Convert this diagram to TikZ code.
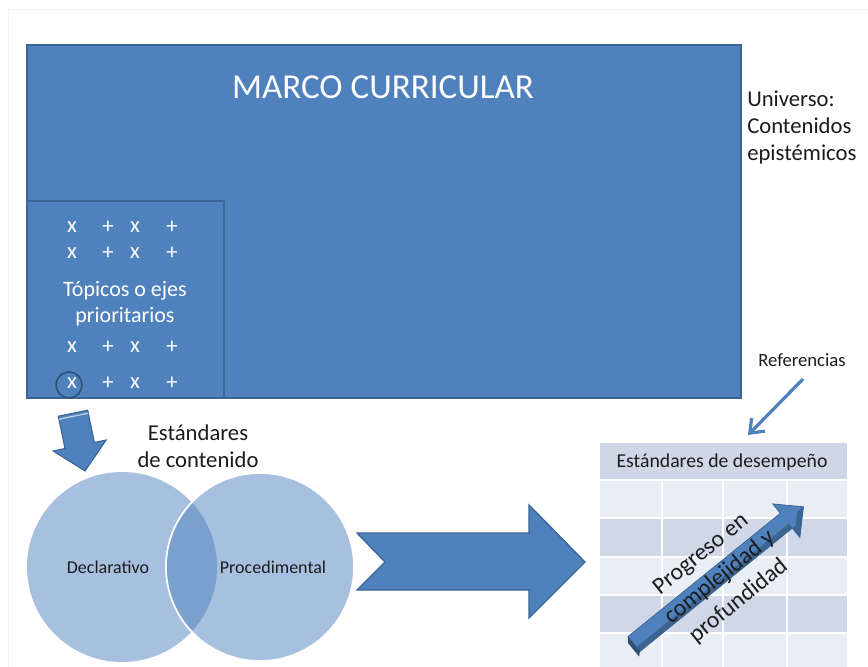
\documentclass[tikz,border=0pt]{standalone}
\usepackage{fontspec}
\setmainfont{Carlito}
\usetikzlibrary{arrows.meta}
\definecolor{mainblue}{HTML}{4F81BD}
\definecolor{edgeblue}{HTML}{3A6596}
\definecolor{circfill}{HTML}{A8C0DF}
\definecolor{lensfill}{HTML}{7BA0CD}
\definecolor{hdrfill}{HTML}{CFD7E6}
\definecolor{rowA}{HTML}{E9EDF4}
\definecolor{rowB}{HTML}{D0D8E8}
\definecolor{darkbevel}{HTML}{3C6490}
\definecolor{txt}{HTML}{1C1C1C}
\definecolor{faint}{HTML}{F3F3F3}
\newcommand{\fs}[2]{\fontsize{#1pt}{#2pt}\selectfont}
\tikzset{
  blockbox/.style={fill=mainblue, draw=edgeblue, line width=1pt},
  whitetxt/.style={text=white, inner sep=0pt, align=center},
  darktxt/.style={text=txt, inner sep=0pt, align=center},
  xmark/.style={text=white, inner sep=0pt, font=\fs{17}{20}},
  gridline/.style={draw=white, line width=1.2pt}
}
\begin{document}
\begin{tikzpicture}[x=0.75pt,y=-0.75pt]
\useasboundingbox (0,0) rectangle (868,667);
\fill[white] (0,0) rectangle (868,667);
\draw[faint, line width=0.8pt] (8.5,667) -- (8.5,9.5) -- (868,9.5);
% main box
\draw[blockbox] (27,45) rectangle (741,398);
\node[whitetxt, font=\fs{26.3}{30}] (title) at (383,87) {MARCO CURRICULAR};
\draw[blockbox] (27,201) rectangle (224,398);
% marks
\foreach \y in {227,253,347,383}{
  \node[xmark] at (72,\y) {x};
  \node[xmark] at (108,\y) {+};
  \node[xmark] at (135,\y) {x};
  \node[xmark] at (172,\y) {+};
}
\draw[edgeblue!80!black, line width=1.2pt] (69,385) circle (13);
\node[whitetxt, font=\fs{16.5}{19.5}] (topicos) at (125,304) {Tópicos o ejes\\prioritarios};
\node[darktxt, font=\fs{17}{20}, align=left, anchor=north west] (universo) at (747,91) {Universo:\\Contenidos\\epistémicos};
% down arrow
\draw[blockbox, line width=0.8pt] (87.7,410.2) -- (94.4,442.5) -- (106.2,440.0) -- (85,471) -- (53.2,451.0) -- (65.0,448.5) -- (58.3,416.2) -- cycle;
\draw[white!60!mainblue, line width=1pt] (58.9,419.2) -- (88.3,413.2);
\node[darktxt, font=\fs{17}{20}] (estcont) at (198,446) {Estándares\\de contenido};
% circles
\fill[circfill] (122,567) circle (95);
\draw[white, line width=1.2pt, fill=circfill] (260,567) circle (94);
\begin{scope}
  \clip (122,567) circle (95);
  \fill[lensfill] (260,567) circle (94);
  \draw[white, line width=1.2pt] (260,567) circle (94);
\end{scope}
\node (decl) [darktxt, font=\fs{13.5}{16}] at (108,567) {Declarativo};
\node (proc) [darktxt, font=\fs{13.5}{16}] at (273,567) {Procedimental};
% big right arrow
\draw[blockbox] (357,533) -- (529,533) -- (529,505) -- (585,562) -- (529,618) -- (529,590) -- (357,590) -- (385,562) -- cycle;
% table
\fill[hdrfill] (600,443) rectangle (847,480);
\fill[rowA] (600,480) rectangle (847,518);
\fill[rowB] (600,518) rectangle (847,557);
\fill[rowA] (600,557) rectangle (847,595);
\fill[rowB] (600,595) rectangle (847,633);
\fill[rowA] (600,633) rectangle (847,667);
\foreach \y in {480,518,557,595,633}{\draw[gridline] (600,\y) -- (847,\y);}
\foreach \x in {662,723,787}{\draw[gridline] (\x,480) -- (\x,667);}
\node[darktxt, font=\fs{14.8}{18}] (desemp) at (722,462) {Estándares de desempeño};
% diagonal arrow
\begin{scope}[shift={(634,644)}, rotate=39]
  \draw[blockbox, line width=0.6pt] (0,-9.5) -- (196,-9.5) -- (196,-21.5) -- (218,0) -- (196,21.5) -- (196,9.5) -- (0,9.5) -- cycle;
  \fill[darkbevel] (0,4) rectangle (196,9.5);
  \fill[darkbevel] (196,9.5) -- (196,21.5) -- (218,0) -- (210,0) -- (200,10) -- cycle;
  \fill[darkbevel!80!black] (0,-9.5) -- (-4,-5) -- (-4,13) -- (0,9.5) -- cycle;
\end{scope}
\node[darktxt, font=\fs{17.8}{22.5}, rotate=39] (progreso) at (720,578) {Progreso en\\complejidad y\\profundidad};
% Referencias
\node[darktxt, font=\fs{14}{17}] (refs) at (802,360) {Referencias};
\coordinate (refend) at (748,435);
\draw[mainblue, line width=2.4pt, -{Straight Barb[length=9pt, width=14pt]}] (803,379) -- (refend);
\end{tikzpicture}
\end{document}
